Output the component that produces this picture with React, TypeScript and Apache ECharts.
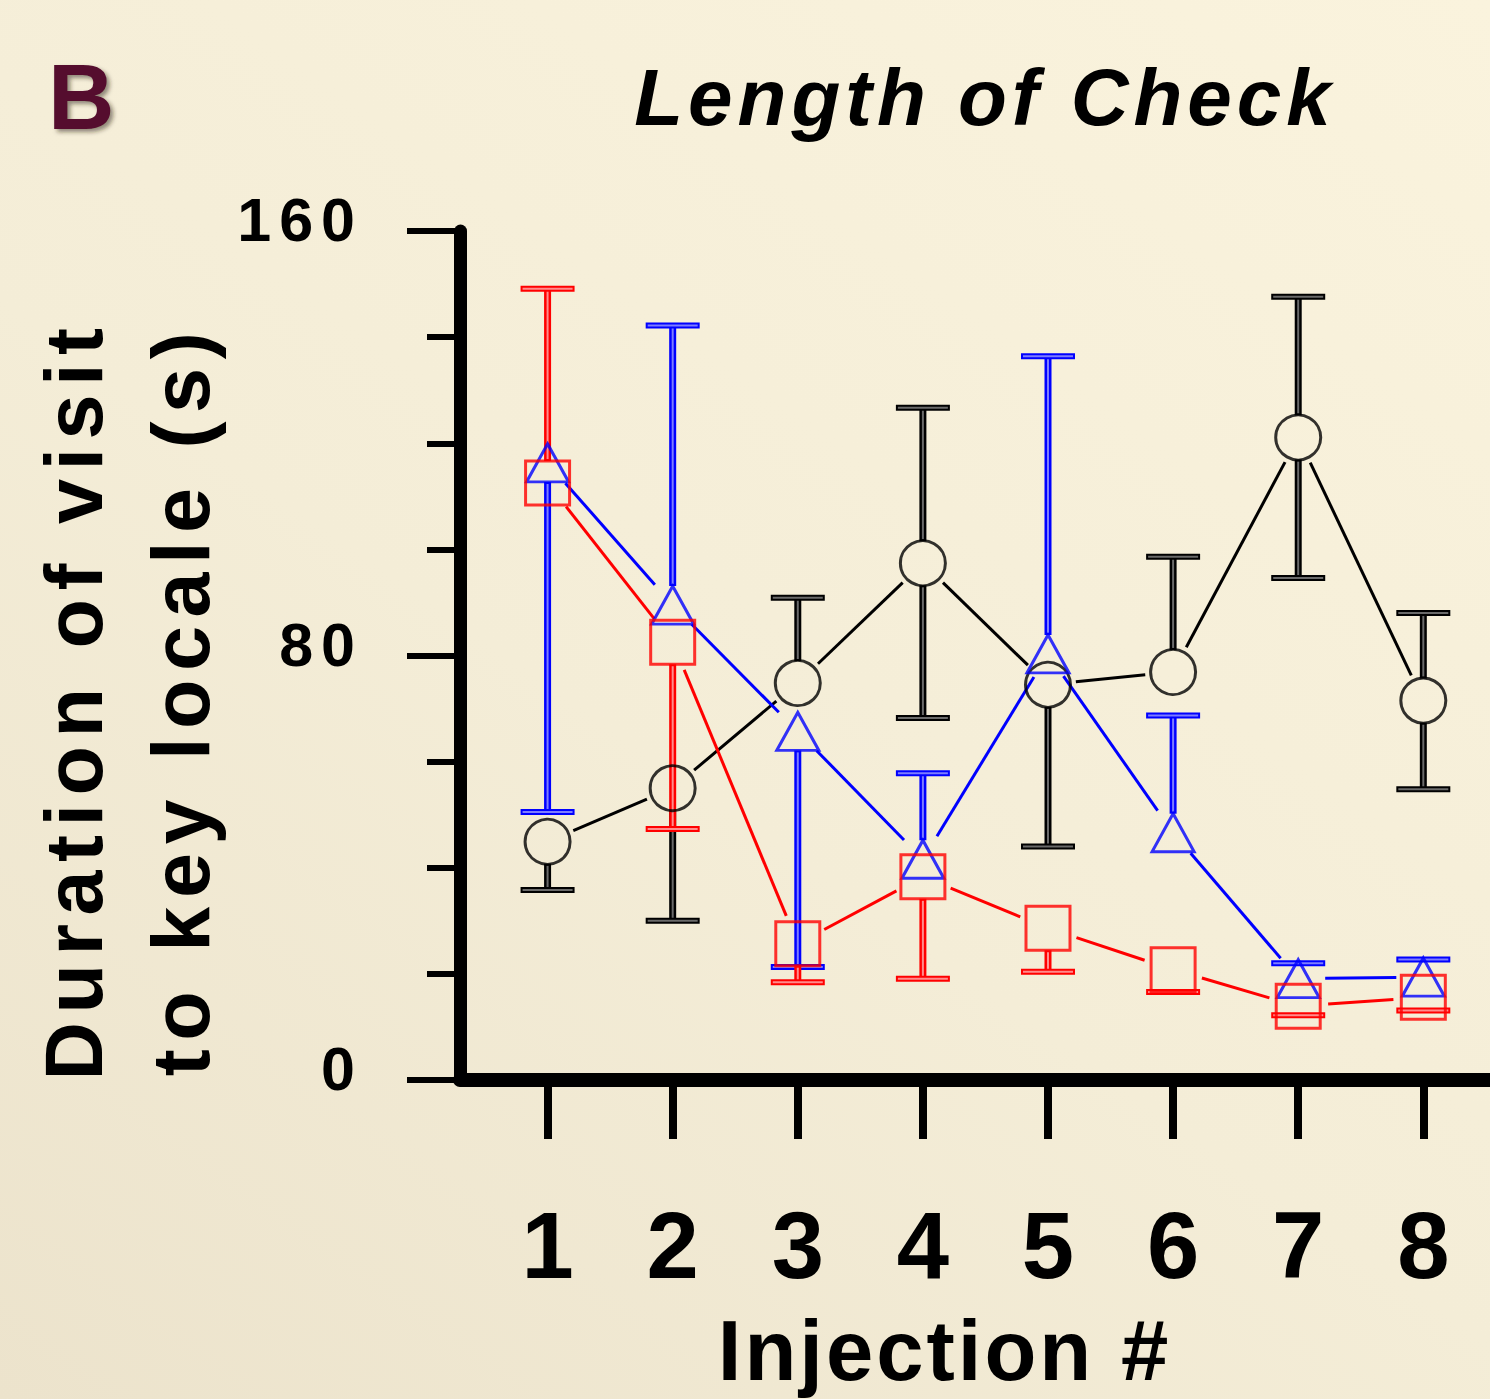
import React, { useEffect, useRef } from "react";
import * as echarts from "echarts";

// ---------- data ----------
const injections = [1, 2, 3, 4, 5, 6, 7, 8];

const blackMean = [44.9, 55.0, 74.8, 97.4, 74.5, 76.9, 121.1, 71.5];
const blackUpper = [null, null, 90.9, 126.7, null, 98.6, 147.6, 88.0];
const blackLower = [35.8, 30.0, null, 68.2, 44.0, null, 94.6, 54.8];

const blueMean = [116.3, 89.5, 65.7, 41.6, 80.3, 46.6, 19.1, 19.4];
const blueUpper = [null, 142.2, null, 57.8, 136.4, 68.7, 22.0, 22.7];
const blueLower = [50.5, null, 21.3, null, null, null, null, null];

const redMean = [112.5, 82.5, 25.7, 38.3, 28.6, 20.8, 13.9, 15.6];
const redUpper = [149.1, null, null, null, null, null, null, null];
const redLower = [null, 47.3, 18.4, 19.1, 20.4, 16.6, 12.2, 13.1];

const yMin = 0;
const yMax = 160;
const yLabelStep = 80;

const titleText = "Length of Check";
const panelLetter = "B";
const yTitle1 = "Duration of visit";
const yTitle2 = "to key locale (s)";
const xTitle = "Injection #";

const FONT = '"Liberation Sans", Arial, sans-serif';

const CSS = `
.chartwrap text[style*="italic"] { letter-spacing: 5px; }
.chartwrap text[style*="81px"] { letter-spacing: 8.5px; }
.chartwrap text[style*="61px"] { letter-spacing: 8px; }
.chartwrap text[style*="85px"] { letter-spacing: 3px; }
`;

type Num = number | null;

function makeRenderer(
  mean: number[],
  upper: Num[],
  lower: Num[],
  color: string,
  inner: string,
  gap: number,
  half: number
) {
  return (params: any, api: any) => {
    const i = params.dataIndex;
    const x = injections[i];
    const c = api.coord([x, mean[i]]);
    const children: any[] = [];
    if (i < injections.length - 1) {
      const n = api.coord([injections[i + 1], mean[i + 1]]);
      const dx = n[0] - c[0];
      const dy = n[1] - c[1];
      const len = Math.hypot(dx, dy);
      const ux = dx / len;
      const uy = dy / len;
      children.push({
        type: "line",
        shape: {
          x1: c[0] + ux * gap,
          y1: c[1] + uy * gap,
          x2: n[0] - ux * gap,
          y2: n[1] - uy * gap,
        },
        style: { stroke: color, lineWidth: 3 },
      });
    }
    const bar = (v: number, dir: number) => {
      const p = api.coord([x, v]);
      const edge = c[1] + dir * half;
      if ((dir < 0 && p[1] < edge) || (dir > 0 && p[1] > edge)) {
        children.push({
          type: "line",
          shape: { x1: p[0], y1: edge, x2: p[0], y2: p[1] },
          style: { stroke: color, lineWidth: 7 },
        });
        children.push({
          type: "line",
          shape: { x1: p[0], y1: edge + dir * 2, x2: p[0], y2: p[1] },
          style: { stroke: inner, lineWidth: 2 },
        });
      }
      children.push({
        type: "line",
        shape: { x1: p[0] - 27, y1: p[1], x2: p[0] + 27, y2: p[1] },
        style: { stroke: color, lineWidth: 6 },
      });
      children.push({
        type: "line",
        shape: { x1: p[0] - 25, y1: p[1], x2: p[0] + 25, y2: p[1] },
        style: { stroke: inner, lineWidth: 2 },
      });
    };
    if (upper[i] != null) bar(upper[i] as number, -1);
    if (lower[i] != null) bar(lower[i] as number, 1);
    return { type: "group", children };
  };
}

export default function App() {
  const ref = useRef<HTMLDivElement>(null);

  useEffect(() => {
    if (!ref.current) return;
    const chart = echarts.init(ref.current, undefined, { renderer: "svg" });

    const groups = [
      {
        name: "black",
        mean: blackMean,
        upper: blackUpper,
        lower: blackLower,
        color: "#000000",
        inner: "#6a6a6a",
        symbol: "circle",
        size: [45, 45],
        gap: 28,
        half: 22,
      },
      {
        name: "blue",
        mean: blueMean,
        upper: blueUpper,
        lower: blueLower,
        color: "#0000ff",
        inner: "#7d7dff",
        symbol: "triangle",
        size: [42, 38],
        gap: 27,
        half: 19,
      },
      {
        name: "red",
        mean: redMean,
        upper: redUpper,
        lower: redLower,
        color: "#ff0000",
        inner: "#ff8c8c",
        symbol: "rect",
        size: [44, 44],
        gap: 30,
        half: 22,
      },
    ];

    const series: any[] = [];
    groups.forEach((g) => {
      series.push({
        type: "custom",
        name: g.name + "-bars",
        clip: false,
        data: injections.map((x, i) => [x, g.mean[i]]),
        encode: { x: 0, y: 1 },
        renderItem: makeRenderer(g.mean, g.upper, g.lower, g.color, g.inner, g.gap, g.half),
        silent: true,
      });
    });
    groups.forEach((g) => {
      series.push({
        type: "scatter",
        name: g.name,
        symbol: g.symbol,
        symbolSize: g.size,
        data: injections.map((x, i) => [x, g.mean[i]]),
        itemStyle: {
          color: "rgba(0,0,0,0)",
          borderColor: g.color,
          borderWidth: 3,
        },
        silent: true,
      });
    });

    chart.setOption({
      animation: false,
      backgroundColor: "transparent",
      grid: {
        left: 460,
        top: 231,
        width: 1029,
        height: 849,
        containLabel: false,
        outerBoundsMode: "none",
      },
      xAxis: {
        type: "value",
        min: 0.3,
        max: 8.525,
        axisLine: { show: true, onZero: false, lineStyle: { color: "#000", width: 14 } },
        axisTick: {
          show: true,
          customValues: injections,
          length: 59,
          lineStyle: { color: "#000", width: 8 },
        },
        axisLabel: {
          show: true,
          customValues: injections,
          margin: 165,
          fontSize: 94,
          fontWeight: "bold",
          fontFamily: FONT,
          color: "#000",
          verticalAlign: "middle",
        },
        splitLine: { show: false },
        name: xTitle,
        nameLocation: "middle",
        nameGap: 270,
        nameTextStyle: {
          fontSize: 85,
          fontWeight: "bold",
          fontFamily: FONT,
          color: "#000",
          verticalAlign: "middle",
          padding: [0, 60, 0, 0],
        },
      },
      yAxis: {
        type: "value",
        min: yMin,
        max: yMax,
        interval: yLabelStep,
        axisLine: { show: true, onZero: false, lineStyle: { color: "#000", width: 13 } },
        axisTick: { show: true, length: 53, lineStyle: { color: "#000", width: 6 } },
        minorTick: { show: true, splitNumber: 4, length: 33, lineStyle: { color: "#000", width: 6 } },
        axisLabel: {
          margin: 97,
          formatter: "{a|{value}}",
          rich: {
            a: {
              fontSize: 61,
              fontWeight: "bold",
              fontFamily: FONT,
              color: "#000",
              padding: [0, 0, 22, 0],
            },
          },
        },
        splitLine: { show: false },
        minorSplitLine: { show: false },
      },
      graphic: [
        {
          type: "text",
          x: 48,
          y: 97,
          style: {
            text: panelLetter,
            fontSize: 92,
            fontWeight: "bold",
            fontFamily: FONT,
            fill: "#55102f",
            verticalAlign: "middle",
            textShadowColor: "rgba(40,30,10,0.5)",
            textShadowBlur: 4,
            textShadowOffsetX: 3,
            textShadowOffsetY: 3,
          },
        },
        {
          type: "text",
          x: 985,
          y: 97,
          style: {
            text: titleText,
            fontSize: 80,
            fontWeight: "bold",
            fontStyle: "italic",
            fontFamily: FONT,
            fill: "#000",
            align: "center",
            verticalAlign: "middle",
          },
        },
        {
          type: "text",
          x: 74,
          y: 700,
          rotation: Math.PI / 2,
          style: {
            text: yTitle1,
            fontSize: 81,
            fontWeight: "bold",
            fontFamily: FONT,
            fill: "#000",
            align: "center",
            verticalAlign: "middle",
          },
        },
        {
          type: "text",
          x: 181,
          y: 700,
          rotation: Math.PI / 2,
          style: {
            text: yTitle2,
            fontSize: 81,
            fontWeight: "bold",
            fontFamily: FONT,
            fill: "#000",
            align: "center",
            verticalAlign: "middle",
          },
        },
      ],
      series,
    });

    return () => chart.dispose();
  }, []);

  return (
    <>
      <style>{CSS}</style>
      <div
        ref={ref}
        className="chartwrap"
        style={{
          position: "absolute",
          left: 0,
          top: 0,
          width: 1490,
          height: 1399,
          background: "linear-gradient(35deg, #ece3cc 0%, #f4edd7 45%, #faf3dd 100%)",
        }}
      />
    </>
  );
}
